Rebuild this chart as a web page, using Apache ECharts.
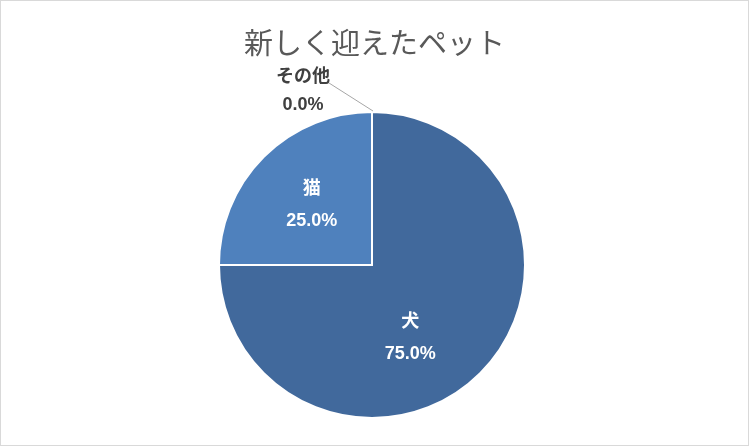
<!DOCTYPE html>
<html><head><meta charset="utf-8">
<script src="https://cdn.jsdelivr.net/npm/echarts@6/dist/echarts.min.js"></script>
<style>
html,body{margin:0;padding:0;background:#fff;}
#c{width:747px;height:444px;border:1px solid #d9d9d9;}
</style></head><body>
<div id="c"></div>
<script>
const title = '新しく迎えたペット';
const categories = ['犬', '猫', 'その他'];
const values = [75, 25, 0];
const colors = ['#41699c', '#4f81bd', '#5a8ac6'];

const CX = 372, CY = 265, R = 153;
const chart = echarts.init(document.getElementById('c'));
const font = '"Liberation Sans","Noto Sans CJK JP",sans-serif';
const fmt = p => p.name + '\n' + p.percent.toFixed(1) + '%';
chart.setOption({
  animation: false,
  title: {text: title, left: 'center', top: 22,
    textStyle: {fontFamily: '"Noto Sans CJK JP"', fontWeight: 'normal', fontSize: 29, color: '#595959'}},
  graphic: [{type: 'line', silent: true, z: 10,
    shape: {x1: CX - 44, y1: CY - R - 30, x2: CX, y2: CY - R - 2},
    style: {stroke: '#a6a6a6', lineWidth: 1}}],
  series: [{
    type: 'pie',
    center: [CX - 1, CY - 1],
    radius: R,
    startAngle: 90,
    clockwise: true,
    stillShowZeroSum: true,
    minShowLabelAngle: 0,
    itemStyle: {borderColor: '#fff', borderWidth: 2},
    label: {position: 'inside', formatter: fmt, color: '#fff', fontWeight: 'bold', fontSize: 18,
      fontFamily: font, lineHeight: 32},
    labelLine: {show: false},
    labelLayout: function (p) {
      if (p.dataIndex === 2) {
        return {x: CX - 70, y: CY - R + 6, align: 'center', verticalAlign: 'bottom'};
      }
    },
    data: categories.map((n, i) => {
      const d = {name: n, value: values[i], itemStyle: {color: colors[i]}};
      if (i === 0) d.label = {offset: [-18, 17]};
      if (i === 1) d.label = {offset: [-4, -4]};
      if (i === 2) {
        d.label = {position: 'outside', color: '#404040', lineHeight: 28, align: 'center'};
        d.labelLine = {show: false};
      }
      return d;
    })
  }]
});
</script></body></html>
